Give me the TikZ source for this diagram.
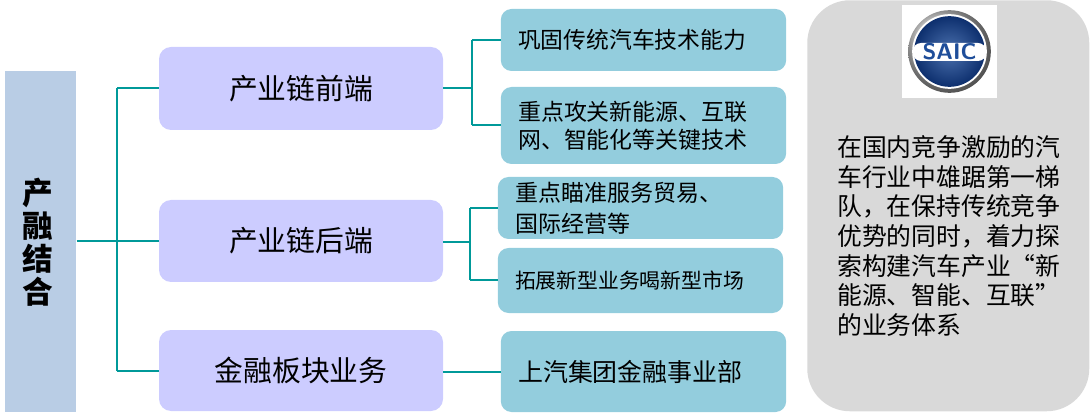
\documentclass[tikz,border=0pt]{standalone}
\usepackage{fontspec}
\setmainfont{Noto Sans CJK SC}
\newfontfamily\cjk{Noto Sans CJK SC}
\definecolor{barblue}{HTML}{B9CDE5}
\definecolor{midpurple}{HTML}{CCCCFF}
\definecolor{boxblue}{HTML}{93CDDD}
\definecolor{panelgray}{HTML}{D9D9D9}
\definecolor{linkteal}{HTML}{009999}
\definecolor{logoblue}{HTML}{1F4E9A}
\definecolor{logodark}{HTML}{0D2F6E}
\begin{document}
\begin{tikzpicture}[x=0.75pt,y=-0.75pt,
  midbox/.style={fill=midpurple, draw=none, rounded corners=9pt, minimum width=213pt, inner sep=0pt,
    font=\cjk\fontsize{21.6}{26}\selectfont},
  rbox/.style={fill=boxblue, draw=none, rounded corners=8pt, minimum width=214pt, inner xsep=13pt, inner ysep=0pt,
    text width=188pt, align=left},
  link/.style={draw=linkteal, line width=1.5pt}]
\useasboundingbox (0,0) rectangle (1092,413);
% left bar
\node[fill=barblue, minimum width=53.25pt, minimum height=255.75pt, inner sep=0pt, anchor=north west] (bar) at (5,71) {};
\node[font=\cjk\bfseries\fontsize{23}{24.75}\selectfont, align=center] (bartext) at (38,242) {产\\融\\结\\合};
% middle boxes
\node[midbox, minimum height=62.25pt] (m1) at (301,88.5) {产业链前端};
\node[midbox, minimum height=61.5pt] (m2) at (301,241) {产业链后端};
\node[midbox, minimum height=60.75pt] (m3) at (301,370.5) {金融板块业务};
% right boxes
\node[rbox, minimum height=46.5pt, font=\cjk\fontsize{17.1}{21}\selectfont] (r1) at (643.5,40) {巩固传统汽车技术能力};
\node[rbox, minimum height=57.75pt, font=\cjk\fontsize{17.2}{21}\selectfont] (r2) at (643.5,125.5) {重点攻关新能源、互联\\网、智能化等关键技术};
\node[rbox, minimum height=46.5pt, font=\cjk\fontsize{17.25}{23}\selectfont] (r3) at (640.5,208) {重点瞄准服务贸易、\\国际经营等};
\node[rbox, minimum height=48.75pt, font=\cjk\fontsize{15.6}{20}\selectfont] (r4) at (640.5,280.5) {拓展新型业务喝新型市场};
\node[rbox, minimum height=60.75pt, font=\cjk\fontsize{18.7}{22}\selectfont] (r5) at (643.5,371.5) {上汽集团金融事业部};
% connectors
\coordinate (j0) at (117,241);
\draw[link] (bar.east |- j0) -- (j0);
\draw[link] (j0 |- m1.west) -- (j0 |- m3.west);
\draw[link] (j0 |- m1.west) -- (m1.west);
\draw[link] (j0) -- (m2.west);
\draw[link] (j0 |- m3.west) -- (m3.west);
\coordinate (j1) at (472,88);
\draw[link] (m1.east |- j1) -- (j1);
\draw[link] (j1 |- r1.west) -- (j1 |- r2.west);
\draw[link] (j1 |- r1.west) -- (r1.west);
\draw[link] (j1 |- r2.west) -- (r2.west);
\coordinate (j2) at (470,242);
\draw[link] (m2.east |- j2) -- (j2);
\draw[link] (j2 |- r3.west) -- (j2 |- r4.west);
\draw[link] (j2 |- r3.west) -- (r3.west);
\draw[link] (j2 |- r4.west) -- (r4.west);
\draw[link] (m3.east |- r5.west) -- (r5.west);
% right panel
\node[fill=panelgray, draw=none, rounded corners=32pt, minimum width=211.5pt, minimum height=308.25pt, inner sep=0pt, anchor=north west] (panel) at (807,0) {};
\node[fill=white, minimum width=71.25pt, minimum height=69.75pt, inner sep=0pt] (logo) at (949.5,51.5) {};
\shade[ball color=gray!40] (949.5,51.5) circle (31pt);
\fill[white] (949.5,51.5) circle (28pt);
\shade[inner color=logoblue!80, outer color=logodark] (949.5,51.5) circle (26.5pt);
\fill[white, rounded corners=6pt] (913,43) rectangle (986,61);
\node[font=\sffamily\bfseries\fontsize{17}{17}\selectfont, text=logoblue, inner sep=0pt] (saic) at (949.5,52) {SAIC};
\node[anchor=west, align=left, inner sep=0pt, font=\cjk\fontsize{18.6}{22.3}\selectfont] (ptext) at (837,236)
 {在国内竞争激励的汽\\车行业中雄踞第一梯\\队，在保持传统竞争\\优势的同时，着力探\\索构建汽车产业“新\\能源、智能、互联”\\的业务体系};
\end{tikzpicture}
\end{document}
